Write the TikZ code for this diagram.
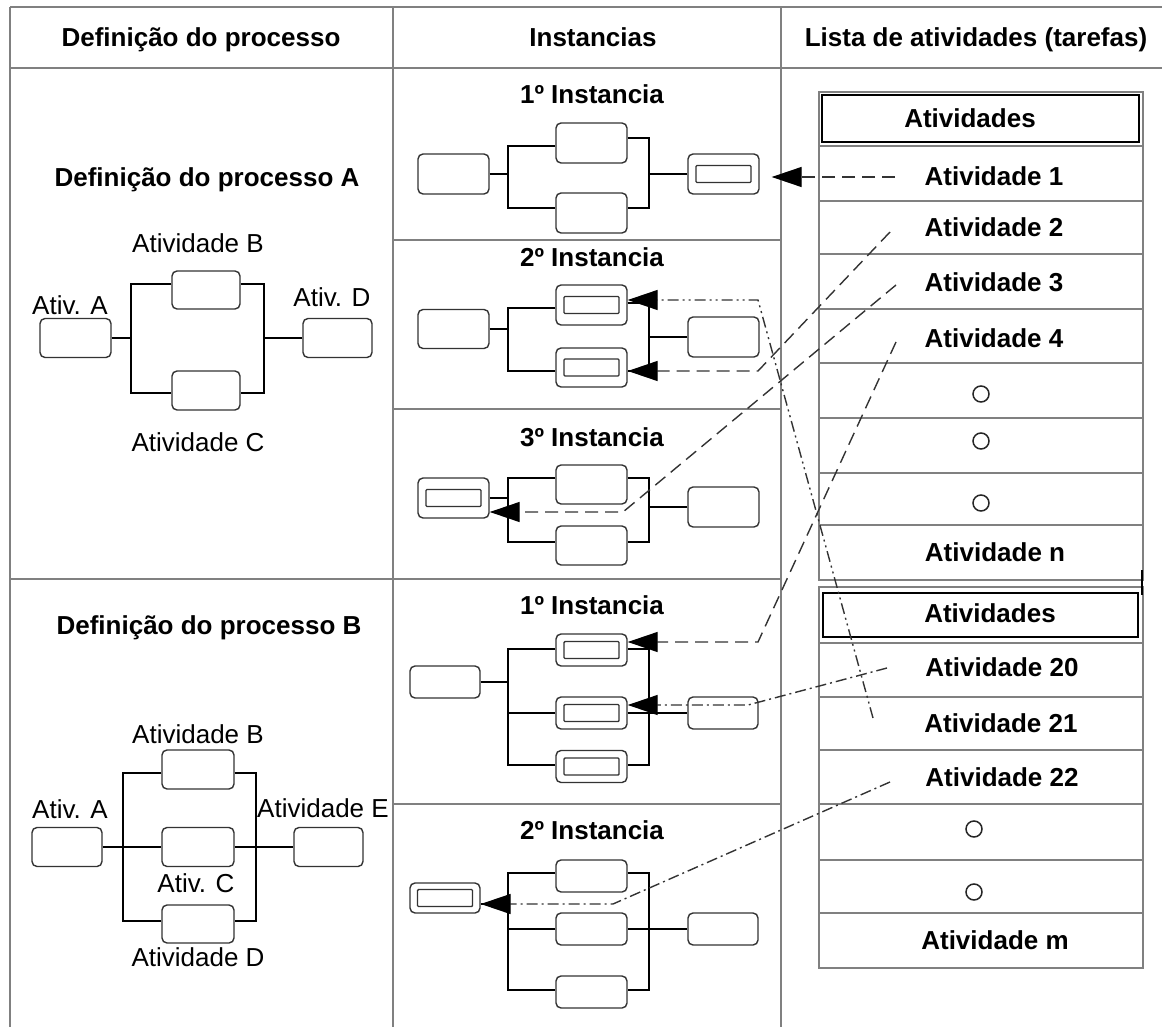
\documentclass[tikz,border=0pt]{standalone}
\usepackage{fontspec}
\setmainfont{Liberation Sans}
\usetikzlibrary{arrows.meta,calc}
\begin{document}
\begin{tikzpicture}[x=1pt,y=-1pt,
  grid/.style={draw=black!50, line width=2pt},
  listline/.style={draw=black!50, line width=2pt},
  txt/.style={font=\fontsize{26}{30}\selectfont, inner sep=0pt, text height=18.7pt, text depth=0pt, anchor=center},
  btxt/.style={txt, font=\fontsize{26}{30}\selectfont\bfseries},
  box/.style={draw=black!80, line width=1.4pt, rounded corners=5pt, minimum width=71pt, minimum height=39pt, inner sep=0pt, fill=white},
  inbox/.style={draw=black!80, line width=1.4pt, rounded corners=1pt, minimum width=55pt, minimum height=17pt, inner sep=0pt},
  abox/.style={box, label={[inbox]center:}},
  sbox/.style={minimum height=32pt},
  hbox/.style={draw=black, line width=2pt, inner sep=0pt},
  ring/.style={draw=black!85, circle, line width=1.5pt, minimum size=16pt, inner sep=0pt},
  wire/.style={draw=black, line width=1.6pt},
  lnk/.style={draw=black!80, line width=1.4pt, -{Triangle[length=30pt,width=20pt,color=black]}},
  dsh/.style={lnk, dash pattern=on 13pt off 7pt},
  dd/.style={lnk, dash pattern=on 11pt off 4pt on 2pt off 4pt},
  ddd/.style={lnk, dash pattern=on 11pt off 4pt on 2pt off 4pt on 2pt off 4pt}
]
\useasboundingbox (0,0) rectangle (1162,1027);

% table grid
\draw[grid] (10,7) -- (1162,7);
\draw[grid] (10,68) -- (1162,68);
\draw[grid] (10,7) -- (10,1027);
\draw[grid] (393,7) -- (393,1027);
\draw[grid] (781,7) -- (781,1027);
\draw[grid] (10,579) -- (393,579);
\foreach \y in {240,409,579,804} \draw[grid] (393,\y) -- (781,\y);

% column headers
\node[btxt] (h1) at (201,37) {Definição do processo};
\node[btxt] (h2) at (593,37) {Instancias};
\node[btxt] (h3) at (976,37) {Lista de atividades (tarefas)};

% ---------- process A ----------
\node[btxt] (pa) at (207,177) {Definição do processo A};
\node[box] (paA) at (75.5,338) {};
\node[box, minimum width=68pt, minimum height=38pt] (paB) at (206,290) {};
\node[box, minimum width=68pt] (paC) at (206,390.5) {};
\node[box, minimum width=69pt] (paD) at (337.5,338) {};
\node[txt] (paBl) at (198,243) {Atividade B};
\node[txt] (paAl) at (70,305) {Ativ. A};
\node[txt] (paDl) at (332,297) {Ativ. D};
\node[txt] (paCl) at (198,442) {Atividade C};
\coordinate (paLt) at (131,284);
\coordinate (paLb) at (131,393);
\coordinate (paRt) at (264,284);
\coordinate (paRb) at (264,393);
\draw[wire] (paLt -| paB.west) -- (paLt) -- (paLb) -- (paLb -| paC.west);
\draw[wire] (paB.east |- paRt) -- (paRt) -- (paRb) -- (paC.east |- paRb);
\draw[wire] (paA.east) -- (paA.east -| paLt);
\draw[wire] (paD.west) -- (paD.west -| paRt);

% ---------- process B ----------
\node[btxt] (pb) at (209,625) {Definição do processo B};
\node[box, minimum width=70pt] (pbA) at (67,847) {};
\node[box, minimum width=72pt] (pbB) at (198,769.5) {};
\node[box, minimum width=72pt] (pbC) at (198,847) {};
\node[box, minimum width=72pt, minimum height=38pt] (pbD) at (198,924) {};
\node[box, minimum width=69pt] (pbE) at (328.5,847) {};
\node[txt] (pbBl) at (198,734) {Atividade B};
\node[txt] (pbAl) at (70,809) {Ativ. A};
\node[txt] (pbEl) at (323,808) {Atividade E};
\node[txt] (pbCl) at (196,883) {Ativ. C};
\node[txt] (pbDl) at (198,957) {Atividade D};
\coordinate (pbLt) at (123,773);
\coordinate (pbLb) at (123,921);
\coordinate (pbRt) at (256,773);
\coordinate (pbRb) at (256,921);
\draw[wire] (pbLt -| pbB.west) -- (pbLt) -- (pbLb) -- (pbLb -| pbD.west);
\draw[wire] (pbB.east |- pbRt) -- (pbRt) -- (pbRb) -- (pbD.east |- pbRb);
\draw[wire] (pbA.east) -- (pbC.west);
\draw[wire] (pbC.east) -- (pbE.west);

% ---------- process A, 1st instance ----------
\node[btxt] (i1t) at (592,94) {1º Instancia};
\node[box, minimum height=40pt] (i1L) at (453.5,174) {};
\node[box, minimum height=40pt] (i1T) at (591.5,143) {};
\node[box, minimum height=40pt] (i1B) at (591.5,213) {};
\node[abox, minimum height=40pt] (i1R) at (723.5,174) {};
\coordinate (i1Lt) at (508,146);
\coordinate (i1Lb) at (508,208);
\coordinate (i1Rt) at (649,138);
\coordinate (i1Rb) at (649,208);
\draw[wire] (i1Lt -| i1T.west) -- (i1Lt) -- (i1Lb) -- (i1Lb -| i1B.west);
\draw[wire] (i1T.east |- i1Rt) -- (i1Rt) -- (i1Rb) -- (i1B.east |- i1Rb);
\draw[wire] (i1L.east) -- (i1L.east -| i1Lt);
\draw[wire] (i1R.west) -- (i1R.west -| i1Rt);

% ---------- process A, 2nd instance ----------
\node[btxt] (i2t) at (592,257) {2º Instancia};
\node[box] (i2L) at (453.5,329) {};
\node[abox, minimum height=40pt] (i2T) at (591.5,305) {};
\node[abox] (i2B) at (591.5,367.5) {};
\node[box, minimum height=40pt] (i2R) at (723.5,337) {};
\coordinate (i2Lt) at (508,308);
\coordinate (i2Lb) at (508,371);
\coordinate (i2Rt) at (649,303);
\coordinate (i2Rb) at (649,371);
\draw[wire] (i2Lt -| i2T.west) -- (i2Lt) -- (i2Lb) -- (i2Lb -| i2B.west);
\draw[wire] (i2T.east |- i2Rt) -- (i2Rt) -- (i2Rb) -- (i2B.east |- i2Rb);
\draw[wire] (i2L.east) -- (i2L.east -| i2Lt);
\draw[wire] (i2R.west) -- (i2R.west -| i2Rt);

% ---------- process A, 3rd instance ----------
\node[btxt] (i3t) at (592,437) {3º Instancia};
\node[abox, minimum height=40pt] (i3L) at (453.5,498) {};
\node[box] (i3T) at (591.5,484.5) {};
\node[box] (i3B) at (591.5,545.5) {};
\node[box, minimum height=40pt] (i3R) at (723.5,507) {};
\coordinate (i3Lt) at (508,478);
\coordinate (i3Lb) at (508,542);
\coordinate (i3Rt) at (649,478);
\coordinate (i3Rb) at (649,542);
\draw[wire] (i3Lt -| i3T.west) -- (i3Lt) -- (i3Lb) -- (i3Lb -| i3B.west);
\draw[wire] (i3T.east |- i3Rt) -- (i3Rt) -- (i3Rb) -- (i3B.east |- i3Rb);
\draw[wire] (i3L.east) -- (i3L.east -| i3Lt);
\draw[wire] (i3R.west) -- (i3R.west -| i3Rt);

% ---------- process B, 1st instance ----------
\node[btxt] (j1t) at (592,605) {1º Instancia};
\node[box, sbox, minimum width=70pt] (j1L) at (445,682) {};
\node[abox, sbox] (j1T) at (591.5,650) {};
\node[abox, sbox] (j1M) at (591.5,713) {};
\node[abox, sbox] (j1B) at (591.5,766.5) {};
\node[box, sbox, minimum width=70pt] (j1R) at (723,713) {};
\coordinate (j1Lt) at (508,649);
\coordinate (j1Lb) at (508,765);
\coordinate (j1Rt) at (649,649);
\coordinate (j1Rb) at (649,765);
\draw[wire] (j1Lt -| j1T.west) -- (j1Lt) -- (j1Lb) -- (j1Lb -| j1B.west);
\draw[wire] (j1T.east |- j1Rt) -- (j1Rt) -- (j1Rb) -- (j1B.east |- j1Rb);
\draw[wire] (j1L.east) -- (j1L.east -| j1Lt);
\draw[wire] (j1M.west) -- (j1M.west -| j1Lt);
\draw[wire] (j1M.east) -- (j1R.west);

% ---------- process B, 2nd instance ----------
\node[btxt] (j2t) at (592,830) {2º Instancia};
\node[abox, sbox, minimum height=30pt, minimum width=70pt] (j2L) at (445,898) {};
\node[box, sbox] (j2T) at (591.5,876) {};
\node[box, sbox] (j2M) at (591.5,929) {};
\node[box, sbox] (j2B) at (591.5,992) {};
\node[box, sbox, minimum width=70pt] (j2R) at (723,929) {};
\coordinate (j2Lt) at (508,873);
\coordinate (j2Lb) at (508,990);
\coordinate (j2Rt) at (649,873);
\coordinate (j2Rb) at (649,990);
\coordinate (j2Lc) at (508,904);
\draw[wire] (j2Lt -| j2T.west) -- (j2Lt) -- (j2Lb) -- (j2Lb -| j2B.west);
\draw[wire] (j2T.east |- j2Rt) -- (j2Rt) -- (j2Rb) -- (j2B.east |- j2Rb);
\draw[wire] (j2Lc -| j2L.east) -- (j2Lc);
\draw[wire] (j2M.west) -- (j2M.west -| j2Lt);
\draw[wire] (j2M.east) -- (j2R.west);

% ---------- activity list 1 ----------
\draw[listline] (819,92) rectangle (1143,580);
\foreach \y in {146,201,254,309,363,418,473,525} \draw[listline] (819,\y) -- (1143,\y);
\node[hbox, minimum width=317pt, minimum height=47pt] (l1h) at (980.5,118.5) {};
\node[btxt] (l1ht) at (970,118) {Atividades};
\node[btxt] (a1) at (994,176) {Atividade 1};
\node[btxt] (a2) at (994,227) {Atividade 2};
\node[btxt] (a3) at (994,282) {Atividade 3};
\node[btxt] (a4) at (994,338) {Atividade 4};
\node[ring] (c1) at (981,394) {};
\node[ring] (c2) at (981,441) {};
\node[ring] (c3) at (981,503) {};
\node[btxt] (an) at (995,552) {Atividade n};

% ---------- activity list 2 ----------
\draw[listline] (819,587) rectangle (1143,968);
\foreach \y in {643,697,750,804,860,913} \draw[listline] (819,\y) -- (1143,\y);
\node[hbox, minimum width=315pt, minimum height=44pt] (l2h) at (980.5,615) {};
\node[btxt] (l2ht) at (990,613) {Atividades};
\node[btxt] (a20) at (1002,667) {Atividade 20};
\node[btxt] (a21) at (1001,723) {Atividade 21};
\node[btxt] (a22) at (1002,777) {Atividade 22};
\node[ring] (c4) at (974,829) {};
\node[ring] (c5) at (974,892) {};
\node[btxt] (am) at (995,940) {Atividade m};
\draw[black, line width=1.2pt] (1142,570) -- (1142,595);

% ---------- links from the list to the instances ----------
\coordinate (s1) at (895,177);
\coordinate (e1) at ($(i1R.east)+(12,3)$);
\draw[dsh] (s1) -- (e1);

\coordinate (s2) at (890,232);
\coordinate (k2) at (758,371);
\draw[dsh] (s2) -- (k2) -- (k2 -| i2B.east);

\coordinate (s3) at (896,285);
\coordinate (k3) at (623,512);
\draw[dsh] (s3) -- (k3) -- (k3 -| i3L.east);

\coordinate (s4) at (896,342);
\coordinate (k4) at (758,642);
\draw[dsh] (s4) -- (k4) -- (k4 -| j1T.east);

\coordinate (s20) at (887,668);
\coordinate (k20) at (748,705);
\draw[dd] (s20) -- (k20) -- (k20 -| j1M.east);

\coordinate (s21) at (873,718);
\coordinate (k21) at (758,300);
\draw[ddd] (s21) -- (k21) -- (k21 -| i2T.east);

\coordinate (s22) at (890,782);
\coordinate (k22) at (613,904);
\draw[dd] (s22) -- (k22) -- (k22 -| j2L.east);
\end{tikzpicture}
\end{document}
